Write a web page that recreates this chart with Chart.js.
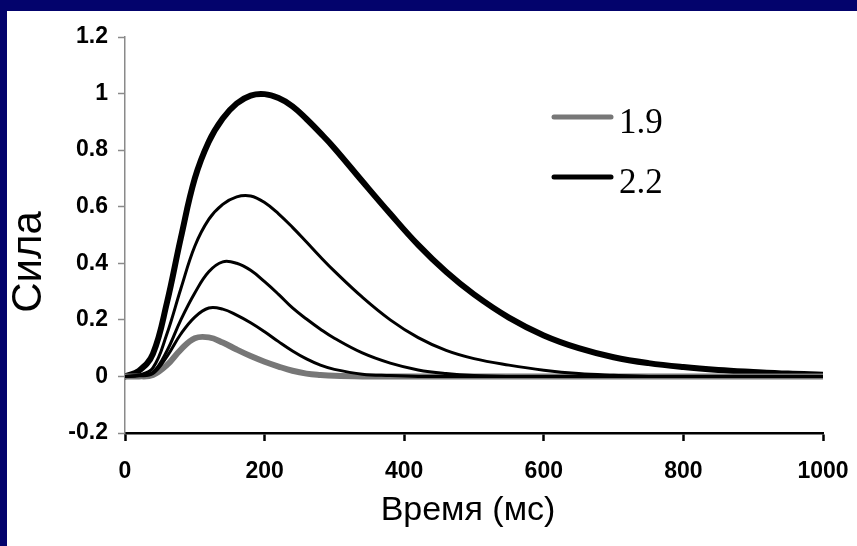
<!DOCTYPE html>
<html>
<head>
<meta charset="utf-8">
<title>Сила</title>
<script src="https://cdn.jsdelivr.net/npm/chart.js@4.4.0/dist/chart.umd.min.js"></script>
<style>
    html, body { margin: 0; padding: 0; background: #03036c; }
    #panel {
        position: absolute;
        left: 7px;
        top: 11px;
        width: 850px;
        height: 535px;
        background: #fff;
    }
</style>
</head>
<body>
<div id="panel"><canvas id="force-chart" width="850" height="535"></canvas></div>
<script>
// time, ms
const times = [0, 20, 40, 60, 80, 100, 120, 140, 160, 180, 200, 220, 240, 260, 280, 300,
    340, 380, 420, 460, 500, 550, 600, 650, 700, 750, 800, 850, 900, 950, 1000];

// force for each stimulus, normalised to the largest peak
const force19 = [0, 0, 0.005, 0.04, 0.095, 0.135, 0.138, 0.12, 0.095, 0.072, 0.052, 0.035, 0.02, 0.01, 0.005, 0.002,
    0, 0, 0, 0, 0, 0, 0, 0, 0, 0, 0, 0, 0, 0, 0];
const forceB = [0, 0.002, 0.01, 0.07, 0.15, 0.21, 0.242, 0.238, 0.217, 0.19, 0.158, 0.123, 0.09, 0.062, 0.04, 0.025,
    0.008, 0.003, 0, 0, 0, 0, 0, 0, 0, 0, 0, 0, 0, 0, 0];
const forceC = [0, 0.003, 0.015, 0.09, 0.2, 0.295, 0.37, 0.405, 0.4, 0.375, 0.335, 0.29, 0.242, 0.203, 0.167, 0.135,
    0.083, 0.047, 0.023, 0.01, 0.003, 0, 0, 0, 0, 0, 0, 0, 0, 0, 0];
const forceD = [0, 0.005, 0.03, 0.15, 0.31, 0.46, 0.555, 0.608, 0.635, 0.638, 0.615, 0.575, 0.527, 0.475, 0.422, 0.372,
    0.28, 0.2, 0.137, 0.092, 0.063, 0.04, 0.022, 0.01, 0.004, 0, 0, 0, 0, 0, 0];
const force22 = [0, 0.02, 0.08, 0.26, 0.49, 0.70, 0.83, 0.912, 0.965, 0.993, 0.998, 0.984, 0.955, 0.91, 0.86, 0.807,
    0.69, 0.575, 0.465, 0.37, 0.29, 0.208, 0.145, 0.10, 0.068, 0.047, 0.033, 0.023, 0.016, 0.01, 0.006];

const xTicks = [0, 200, 400, 600, 800, 1000];
const xTickLabels = ["0", "200", "400", "600", "800", "1000"];
const yTicks = [-0.2, 0, 0.2, 0.4, 0.6, 0.8, 1, 1.2];
const yTickLabels = ["-0.2", "0", "0.2", "0.4", "0.6", "0.8", "1", "1.2"];

const toPoints = (values) => values.map((v, i) => ({ x: times[i], y: v }));

const curve = (label, values, color, width, inLegend) => ({
    label,
    data: toPoints(values),
    borderColor: color,
    borderWidth: width,
    pointRadius: 0,
    tension: 0.4,
    borderCapStyle: "round",
    borderJoinStyle: "round",
    inLegend,
});

// legend and axis titles drawn by hand
const decorations = {
    id: "decorations",
    afterDraw(chart) {
        const ctx = chart.ctx;
        ctx.save();

        ctx.fillStyle = "#000";
        ctx.font = "34px 'Liberation Sans', Arial, sans-serif";
        ctx.textAlign = "center";
        ctx.textBaseline = "alphabetic";
        ctx.fillText("Время (мс)", 461, 509);

        ctx.save();
        ctx.translate(34, 251);
        ctx.rotate(-Math.PI / 2);
        ctx.font = "42px 'Liberation Sans', Arial, sans-serif";
        ctx.fillText("Сила", 0, 0);
        ctx.restore();

        const rows = chart.data.datasets.filter((ds) => ds.inLegend);
        ctx.font = "35px 'Liberation Serif', 'Times New Roman', serif";
        ctx.textAlign = "left";
        rows.forEach((ds, i) => {
            const y = 106 + i * 60;
            ctx.strokeStyle = ds.borderColor;
            ctx.lineWidth = ds.borderWidth - 1;
            ctx.lineCap = "round";
            ctx.beginPath();
            ctx.moveTo(547, y);
            ctx.lineTo(604, y);
            ctx.stroke();
            ctx.fillText(ds.label, 612, y + 16);
        });

        ctx.restore();
    },
};

const tickFont = { family: "'Liberation Sans', Arial, sans-serif", size: 23, weight: "bold" };

new Chart(document.getElementById("force-chart"), {
    type: "line",
    data: {
        datasets: [
            curve("c", forceB, "#000", 3, false),
            curve("d", forceC, "#000", 3, false),
            curve("e", forceD, "#000", 3, false),
            curve("1.9", force19, "#777", 6, true),
            curve("2.2", force22, "#000", 6, true),
        ],
    },
    options: {
        responsive: false,
        animation: false,
        layout: { padding: { top: 26, right: 34, bottom: 0, left: 0 } },
        plugins: { legend: { display: false }, tooltip: { enabled: false } },
        scales: {
            x: {
                type: "linear",
                min: 0,
                max: 1000,
                afterBuildTicks: (scale) => { scale.ticks = xTicks.map((v) => ({ value: v })); },
                afterFit: (scale) => {
                    scale.height = 113;
                    scale.paddingLeft = 0;
                    scale.paddingRight = 0;
                },
                border: { display: true, color: "#000", width: 2.5 },
                grid: { drawOnChartArea: false, tickLength: 8, tickWidth: 2.5, tickColor: "#000" },
                ticks: {
                    color: "#000",
                    font: tickFont,
                    padding: 17,
                    maxRotation: 0,
                    callback: (value, index) => xTickLabels[index],
                },
            },
            y: {
                type: "linear",
                min: -0.2,
                max: 1.2,
                afterBuildTicks: (scale) => { scale.ticks = yTicks.map((v) => ({ value: v })); },
                afterFit: (scale) => { scale.width = 118; },
                border: { display: true, color: "#8a8a8a", width: 1.5 },
                grid: { drawOnChartArea: false, tickLength: 7, tickWidth: 1.5, tickColor: "#8a8a8a" },
                ticks: {
                    color: "#000",
                    font: tickFont,
                    padding: 10,
                    callback: (value, index) => yTickLabels[index],
                },
            },
        },
    },
    plugins: [decorations],
});
</script>
</body>
</html>
